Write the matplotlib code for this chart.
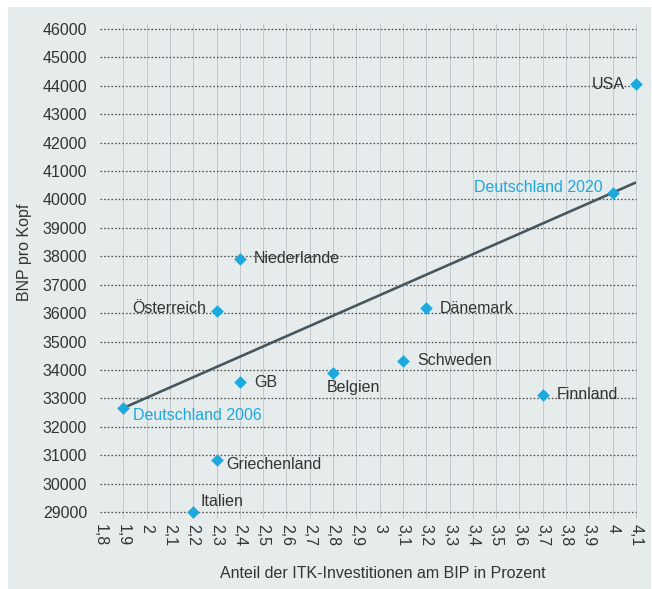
import matplotlib.pyplot as plt
from matplotlib.patches import Rectangle

plt.rcParams['font.family'] = ['Liberation Sans', 'DejaVu Sans']

# Countries: ICT investment share of GDP (%) vs. GNP per capita
countries = ['USA', 'Deutschland 2020', 'Niederlande', 'Österreich', 'Dänemark',
             'Schweden', 'Belgien', 'Finnland', 'GB', 'Griechenland', 'Italien',
             'Deutschland 2006']
itk_share = [4.1, 4.0, 2.4, 2.3, 3.2, 3.1, 2.8, 3.7, 2.4, 2.3, 2.2, 1.9]
bnp = [44060, 40230, 37920, 36080, 36180, 34320, 33880, 33130, 33560, 30840, 29000, 32660]

# trend line end points
trend_x = [1.9, 4.1]
trend_y = [32660, 40600]

x_ticks = [1.8, 1.9, 2.0, 2.1, 2.2, 2.3, 2.4, 2.5, 2.6, 2.7, 2.8, 2.9, 3.0,
           3.1, 3.2, 3.3, 3.4, 3.5, 3.6, 3.7, 3.8, 3.9, 4.0, 4.1]
x_labels = ['1,8', '1,9', '2', '2,1', '2,2', '2,3', '2,4', '2,5', '2,6', '2,7', '2,8',
            '2,9', '3', '3,1', '3,2', '3,3', '3,4', '3,5', '3,6', '3,7', '3,8', '3,9',
            '4', '4,1']
y_ticks = list(range(29000, 46001, 1000))

# label placement (offset in points, alignment)
label_pos = {
    'USA': (-11, 0, 'right'),
    'Deutschland 2020': (-10, 5, 'right'),
    'Niederlande': (14, 0, 'left'),
    'Österreich': (-10, 2, 'right'),
    'Dänemark': (13, 0, 'left'),
    'Schweden': (14, 0, 'left'),
    'Belgien': (-6, -14, 'left'),
    'Finnland': (14, 0, 'left'),
    'GB': (14, 0, 'left'),
    'Griechenland': (10, -5, 'left'),
    'Italien': (7, 11, 'left'),
    'Deutschland 2006': (10, -7, 'left'),
}

BLUE = '#1ca9de'
TEXT = '#333333'
PANEL = '#e6ebec'

W, H = 652, 589
fig = plt.figure(figsize=(W / 72, H / 72), dpi=72)
fig.patch.set_facecolor('white')
fig.patches.append(Rectangle((8 / W, 0), 1 - 9 / W, 1 - 7 / H, transform=fig.transFigure,
                             facecolor=PANEL, edgecolor='none', zorder=-1))

ax = fig.add_axes([100 / W, 1 - 512 / H, 536 / W, 483 / H])
ax.set_zorder(1)
ax.set_facecolor('none')
ax.set_xlim(1.8, 4.1)
ax.set_ylim(29000, 46000)
for s in ax.spines.values():
    s.set_visible(False)

for xv in x_ticks[1:]:
    ax.axvline(xv, ymin=-0.012, ymax=1.01, color='#c3c9cc', lw=1, zorder=1, clip_on=False)
for yv in y_ticks:
    ax.axhline(yv, color='#4a4a4a', lw=1.3, ls=(0, (1.2, 1.6)), zorder=2, clip_on=False)

ax.plot(trend_x, trend_y, color='#46565e', lw=2.6, zorder=3, solid_capstyle='butt')
ax.scatter(itk_share, bnp, marker='D', s=80, color=BLUE, zorder=4, clip_on=False,
           linewidths=0)

for name, xv, yv in zip(countries, itk_share, bnp):
    dx, dy, ha = label_pos[name]
    col = BLUE if name.startswith('Deutschland') else TEXT
    ax.annotate(name, (xv, yv), xytext=(dx, dy), textcoords='offset points',
                ha=ha, va='center', fontsize=16, color=col, zorder=5)

ax.set_xticks(x_ticks)
ax.set_xticklabels(x_labels, rotation=270, fontsize=16, color=TEXT)
ax.set_yticks(y_ticks)
ax.set_yticklabels([str(v) for v in y_ticks], fontsize=16, color=TEXT)
ax.tick_params(axis='both', length=0)
ax.tick_params(axis='x', pad=12)
ax.tick_params(axis='y', pad=13)

fig.text(25 / W, 1 - 252 / H, 'BNP pro Kopf', rotation=90, ha='center', va='center',
         fontsize=16, color=TEXT)
fig.text(383 / W, 1 - 573 / H, 'Anteil der ITK-Investitionen am BIP in Prozent',
         ha='center', va='center', fontsize=16, color=TEXT)

fig.savefig('out.png', dpi=72)
